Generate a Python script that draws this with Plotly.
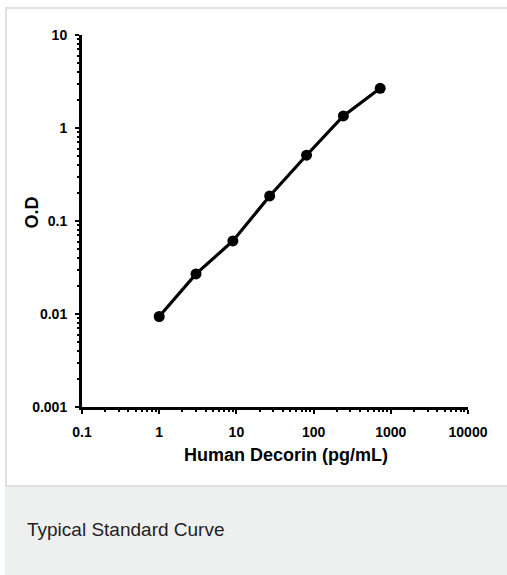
import plotly.graph_objects as go

# Data
concentration = [1, 3, 9, 27, 81, 243, 729]          # Human Decorin (pg/mL)
od_values = [0.0094, 0.027, 0.061, 0.186, 0.51, 1.35, 2.67]

x_tickvals = [0.1, 1, 10, 100, 1000, 10000]
x_ticktext = ["0.1", "1", "10", "100", "1000", "10000"]
y_tickvals = [0.001, 0.01, 0.1, 1, 10]
y_ticktext = ["0.001", "0.01", "0.1", "1", "10"]

x_title = "Human Decorin (pg/mL)"
y_title = "O.D"
caption = "Typical Standard Curve"

W, H = 507, 575
L, R, T, B = 82, 39, 35, 168
pw, ph = W - L - R, H - T - B


def px_x(px):
    return (px - L) / pw


def px_y(py):
    return (H - B - py) / ph


font_chart = "Liberation Sans, Arial, sans-serif"

fig = go.Figure()
fig.add_trace(go.Scatter(
    x=concentration, y=od_values, mode="lines+markers",
    line=dict(color="black", width=3.2),
    marker=dict(color="black", size=11, symbol="circle"),
    showlegend=False, hoverinfo="skip",
))

axis_common = dict(
    showgrid=False, zeroline=False, showline=True, linecolor="black", linewidth=3,
    ticks="outside", ticklen=4, tickwidth=2, tickcolor="black",
    tickfont=dict(family=font_chart, size=14, color="black", weight="bold"),
    minor=dict(ticks="outside", ticklen=2, tickwidth=1.5, tickcolor="black", dtick="D1"),
)

fig.update_xaxes(type="log", range=[-1, 4], tickvals=x_tickvals, ticktext=x_ticktext,
                 ticklabelstandoff=6, **axis_common)
fig.update_yaxes(type="log", range=[-3, 1], tickvals=y_tickvals, ticktext=y_ticktext,
                 ticklabelstandoff=5, **axis_common)

shapes = [
    # gray caption band
    dict(type="rect", xref="paper", yref="paper", layer="below",
         x0=px_x(5), x1=px_x(520), y0=px_y(486), y1=px_y(590),
         fillcolor="#eef0ef", line=dict(width=0)),
    # card border
    dict(type="rect", xref="paper", yref="paper", layer="below",
         x0=px_x(6), x1=px_x(520), y0=px_y(486), y1=px_y(8),
         fillcolor="rgba(0,0,0,0)", line=dict(color="#e0e0e0", width=2)),
]

annotations = [
    dict(text=x_title, xref="paper", yref="paper", x=px_x(285.5), y=px_y(455),
         xanchor="center", yanchor="middle", showarrow=False,
         font=dict(family=font_chart, size=18, color="black", weight="bold")),
    dict(text=y_title, xref="paper", yref="paper", x=px_x(31.5), y=px_y(213),
         xanchor="center", yanchor="middle", showarrow=False, textangle=-90,
         font=dict(family=font_chart, size=18, color="black", weight="bold")),
    dict(text=caption, xref="paper", yref="paper", x=px_x(25), y=px_y(529.5),
         xanchor="left", yanchor="middle", showarrow=False,
         font=dict(family="Liberation Sans, Arial, sans-serif", size=19, color="#222222")),
]

fig.update_layout(
    width=W, height=H, autosize=False,
    margin=dict(l=L, r=R, t=T, b=B, pad=0),
    paper_bgcolor="white", plot_bgcolor="white",
    shapes=shapes, annotations=annotations,
)

fig.write_html("out.html", config={"displayModeBar": False},
               post_script="document.body.style.margin='0';document.body.style.overflow='hidden';")
